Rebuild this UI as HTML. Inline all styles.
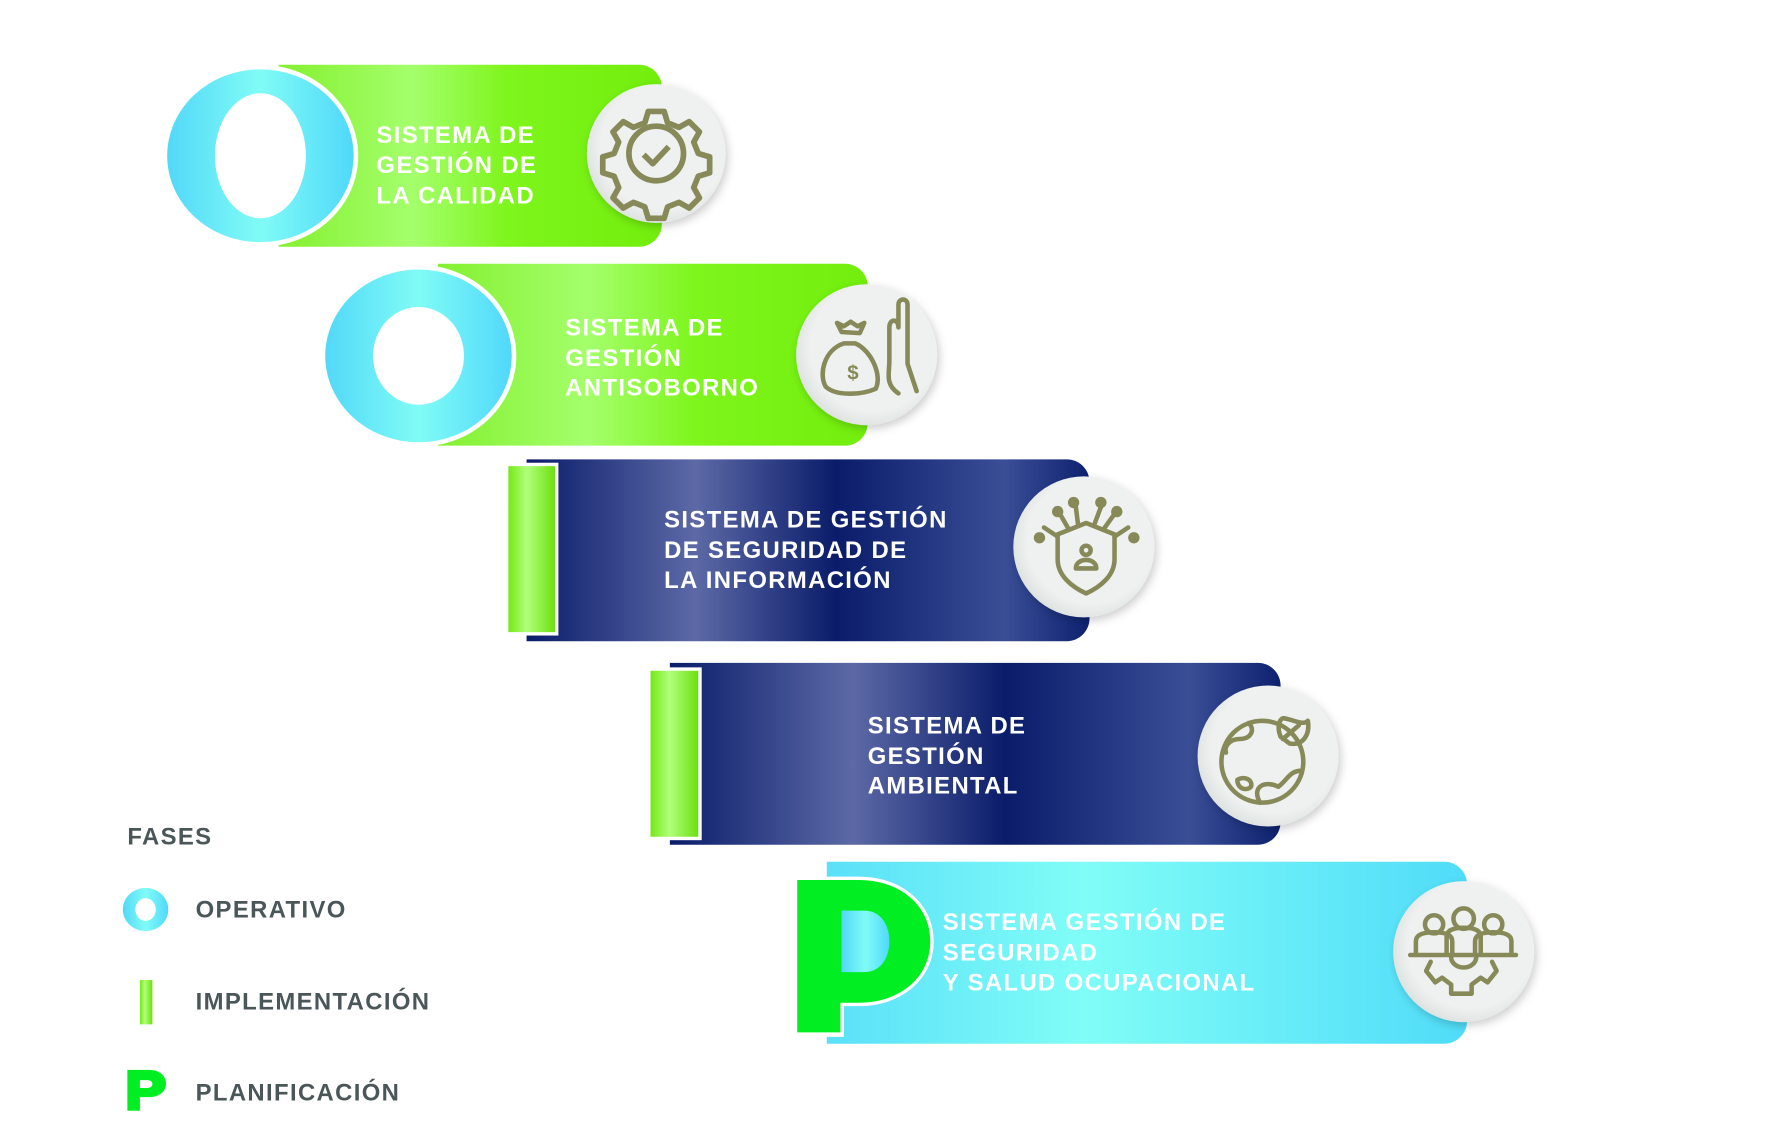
<!DOCTYPE html>
<html><head><meta charset="utf-8"><style>
html,body{margin:0;padding:0;background:#fff;width:1773px;height:1121px;overflow:hidden}
svg{display:block}
text{font-family:"Liberation Sans",sans-serif;font-weight:bold;letter-spacing:1.2px}
</style></head><body>
<svg width="1773" height="1121" viewBox="0 0 1559 986" preserveAspectRatio="none" xmlns="http://www.w3.org/2000/svg">
<defs>
<linearGradient id="gr" x1="0" x2="1" y1="0" y2="0">
<stop offset="0" stop-color="#84f030"/><stop offset="0.35" stop-color="#a4ff6c"/><stop offset="0.6" stop-color="#7ef51c"/><stop offset="1" stop-color="#72ee0c"/></linearGradient>
<linearGradient id="nv" x1="0" x2="1" y1="0" y2="0">
<stop offset="0" stop-color="#0a1c6a"/><stop offset="0.3" stop-color="#5c69a6"/><stop offset="0.55" stop-color="#0a1c6a"/><stop offset="0.85" stop-color="#3a4e96"/><stop offset="1" stop-color="#0d2170"/></linearGradient>
<linearGradient id="cy" x1="0" x2="1" y1="0" y2="0">
<stop offset="0" stop-color="#5ae0f8"/><stop offset="0.4" stop-color="#80fdf7"/><stop offset="1" stop-color="#50dcf8"/></linearGradient>
<linearGradient id="oc" x1="0" x2="1" y1="0" y2="0">
<stop offset="0" stop-color="#52d8f8"/><stop offset="0.5" stop-color="#80fcf6"/><stop offset="1" stop-color="#50d8fa"/></linearGradient>
<linearGradient id="bar" x1="0" x2="1" y1="0" y2="0">
<stop offset="0" stop-color="#76e818"/><stop offset="0.4" stop-color="#b0ff7a"/><stop offset="1" stop-color="#6ce010"/></linearGradient>
<radialGradient id="ic" cx="0.55" cy="0.45" r="0.6">
<stop offset="0.75" stop-color="#eef1f0"/><stop offset="1" stop-color="#d9dedc"/></radialGradient>
<filter id="sh" x="-30%" y="-30%" width="160%" height="160%"><feDropShadow dx="2" dy="3" stdDeviation="4" flood-color="#000" flood-opacity="0.2"/></filter>
</defs>

<path d="M245 57 H562 a20 20 0 0 1 20 20 V197 a20 20 0 0 1 -20 20 H245 Z" fill="url(#gr)"/>
<ellipse cx="229" cy="137" rx="86" ry="80" fill="#fff"/>
<ellipse cx="229" cy="137" rx="82" ry="76" fill="url(#oc)"/>
<ellipse cx="229" cy="137" rx="40" ry="55" fill="#fff"/>
<circle cx="577" cy="135" r="61" fill="url(#ic)" filter="url(#sh)"/>
<g fill="none" stroke="#878a58" stroke-width="5" stroke-linejoin="round">
<path d="M570 98 h14 l3 10 10 4 9-5 9 9-5 9 4 10 10 3 v14 l-10 3-4 10 5 9-9 9-9-5-10 4-3 10 h-14 l-3-10-10-4-9 5-9-9 5-9-4-10-10-3 v-14 l10-3 4-10-5-9 9-9 9 5 10-4 Z"/>
<circle cx="577" cy="135" r="24"/><path d="M566 136 l8 8 14-15"/></g>
<g fill="#fff" font-size="21"><text x="331" y="126">SISTEMA DE</text><text x="331" y="152">GESTIÓN DE</text><text x="331" y="179">LA CALIDAD</text></g>

<path d="M385 232 H743 a20 20 0 0 1 20 20 V372 a20 20 0 0 1 -20 20 H385 Z" fill="url(#gr)"/>
<ellipse cx="368" cy="313" rx="86" ry="80" fill="#fff"/>
<ellipse cx="368" cy="313" rx="82" ry="76" fill="url(#oc)"/>
<ellipse cx="368" cy="313" rx="40" ry="43" fill="#fff"/>
<circle cx="762" cy="312" r="62" fill="url(#ic)" filter="url(#sh)"/>
<g fill="none" stroke="#878a58" stroke-width="4" stroke-linejoin="round" stroke-linecap="round">
<path d="M742 302 c-18 6-22 28-16 38 c8 8 30 8 44 2 c6-12-4-34-18-40 Z"/>
<path d="M740 292 l-4-8 6 3 6-4 6 4 6-3 -4 9 Z"/>
<path d="M790 346 c-12-8-8-18-8-28 v-30 c0-8 8-8 8 0 v-20 c0-6 8-6 8 0 v52 l8 24"/>
<text x="745" y="334" font-size="18" fill="#878a58" stroke="none">$</text></g>
<g fill="#fff" font-size="21"><text x="497" y="295">SISTEMA DE</text><text x="497" y="322">GESTIÓN</text><text x="497" y="348">ANTISOBORNO</text></g>

<path d="M463 404 H938 a20 20 0 0 1 20 20 V544 a20 20 0 0 1 -20 20 H463 Z" fill="url(#nv)"/>
<rect x="445" y="407" width="46" height="152" fill="#fff"/>
<rect x="447" y="410" width="41" height="146" fill="url(#bar)"/>
<circle cx="953" cy="481" r="62" fill="url(#ic)" filter="url(#sh)"/>
<g fill="none" stroke="#878a58" stroke-width="4" stroke-linejoin="round" stroke-linecap="round">
<path d="M930 470 l25-10 25 10 v22 c0 14-12 24-25 30 c-13-6-25-16-25-30 Z"/>
<circle cx="955" cy="484" r="4"/><path d="M946 500 c0-10 18-10 18 0 Z"/>
<path d="M930 472 l-12-8 M980 472 l12-8 M940 466 l-8-14 M948 462 l-2-16 M962 462 l6-16 M970 466 l10-14"/></g>
<g fill="#878a58"><circle cx="914" cy="473" r="5"/><circle cx="997" cy="473" r="5"/><circle cx="930" cy="450" r="5"/><circle cx="944" cy="442" r="5"/><circle cx="968" cy="442" r="5"/><circle cx="982" cy="450" r="5"/></g>
<g fill="#fff" font-size="21"><text x="584" y="464">SISTEMA DE GESTIÓN</text><text x="584" y="491">DE SEGURIDAD DE</text><text x="584" y="517">LA INFORMACIÓN</text></g>

<path d="M589 583 H1106 a20 20 0 0 1 20 20 V723 a20 20 0 0 1 -20 20 H589 Z" fill="url(#nv)"/>
<rect x="570" y="587" width="47" height="152" fill="#fff"/>
<rect x="572" y="590" width="42" height="146" fill="url(#bar)"/>
<circle cx="1115" cy="665" r="62" fill="url(#ic)" filter="url(#sh)"/>
<g fill="none" stroke="#878a58" stroke-width="4" stroke-linejoin="round" stroke-linecap="round">
<circle cx="1110" cy="670" r="36"/>
<path d="M1098 636 c6 6 2 14-8 14 c-8 0-14 6-12 12"/>
<path d="M1088 686 c6-4 14 0 12 6 c-4 4-12 2-12-6 Z"/>
<path d="M1108 706 c-8-14 4-20 16-14 c8-6 10-14 20-14"/>
<path d="M1126 648 c-4-10 0-18 4-16 c10 2 16 6 20 2 c2 12-4 22-16 20 Z M1128 650 l14-12"/></g>
<g fill="#fff" font-size="21"><text x="763" y="645">SISTEMA DE</text><text x="763" y="672">GESTIÓN</text><text x="763" y="698">AMBIENTAL</text></g>

<path d="M727 758 H1270 a20 20 0 0 1 20 20 V898 a20 20 0 0 1 -20 20 H727 Z" fill="url(#cy)"/>
<path d="M698 771 H755 c38 0 66 24 66 57 c0 33-28 57-66 57 H742 V912 H698 Z" fill="#fff"/>
<path d="M701 774 H755 c36 0 63 22 63 54 c0 32-27 54-63 54 H739 V908 H701 Z" fill="#00ee22"/>
<path d="M740 801 H760 c14 0 22 12 22 27 c0 15-8 27-22 27 H740 Z" fill="url(#oc)"/>
<circle cx="1287" cy="837" r="62" fill="url(#ic)" filter="url(#sh)"/>
<g fill="none" stroke="#878a58" stroke-width="4" stroke-linejoin="round" stroke-linecap="round">
<circle cx="1261" cy="813" r="8"/><circle cx="1287" cy="808" r="9"/><circle cx="1313" cy="813" r="8"/>
<path d="M1245 838 v-10 c0-6 6-8 16-8 c10 0 16 2 16 8 v10 M1297 838 v-10 c0-6 6-8 16-8 c10 0 16 2 16 8 v10 M1272 838 v-14 c0-6 6-8 15-8 c9 0 15 2 15 8 v14"/>
<path d="M1240 840 H1333"/>
<path d="M1258 846 l-4 8 8 10 6-4 8 6 v8 h18 v-8 l8-6 6 4 8-10 -4-8"/>
<path d="M1276 842 a11 9 0 0 0 22 0"/></g>
<g fill="#fff" font-size="21"><text x="829" y="818">SISTEMA GESTIÓN DE</text><text x="829" y="845">SEGURIDAD</text><text x="829" y="871">Y SALUD OCUPACIONAL</text></g>

<g fill="#4a5658" font-size="21"><text x="112" y="743">FASES</text><text x="172" y="807">OPERATIVO</text><text x="172" y="888">IMPLEMENTACIÓN</text><text x="172" y="968">PLANIFICACIÓN</text></g>
<ellipse cx="128" cy="800" rx="20" ry="19" fill="url(#oc)"/>
<ellipse cx="128" cy="800" rx="9" ry="10" fill="#fff"/>
<rect x="123" y="862" width="11" height="39" fill="url(#bar)"/>
<path d="M112 941 H131 c9 0 15 5 15 12 c0 7-6 12-15 12 H123 V977 H112 Z M123 950 V957 H129 c3 0 5-1 5-3.5 c0-2.5-2-3.5-5-3.5 Z" fill="#00ee22" fill-rule="evenodd"/>
</svg>
</body></html>
